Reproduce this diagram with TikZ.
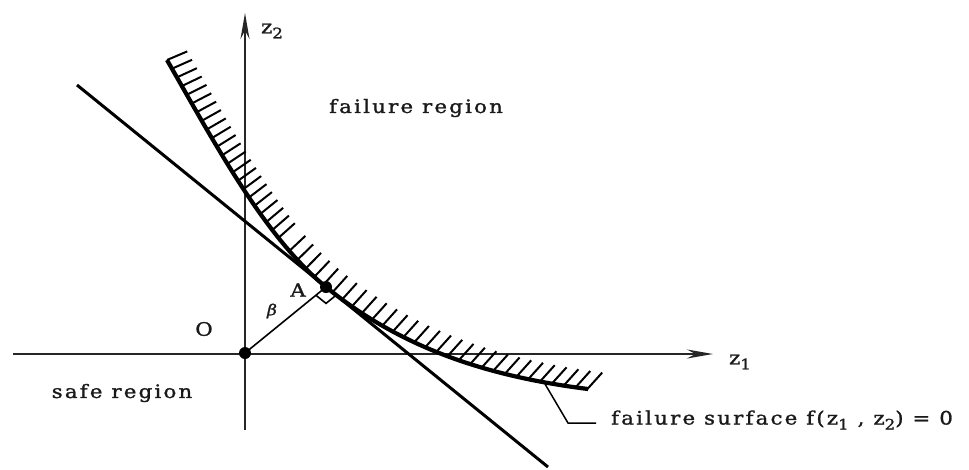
\documentclass[tikz,border=0pt]{standalone}
\usepackage{fontspec}
\usetikzlibrary{arrows.meta,decorations.markings,calc}
\newfontfamily\labfont[FakeStretch=1.15,LetterSpace=12,FakeBold=1.4]{DejaVu Serif}
\newcommand\lsub[1]{\raisebox{-5pt}{\fontsize{14.5}{14.5}\selectfont #1}}
\begin{document}
\begin{tikzpicture}[x=1pt,y=-1pt,
  axisline/.style={line width=1.8pt,draw=black!85,-{Stealth[length=26pt,width=9pt]}},
  tline/.style={line width=3pt},
  curveline/.style={line width=4.2pt},
  thinline/.style={line width=1.6pt},
  leader/.style={line width=1.5pt},
  lab/.style={font=\labfont\fontsize{18.5}{20}\selectfont,inner sep=0pt,text=black!90},
  dot/.style={circle,fill=black,inner sep=0pt,minimum size=12pt},
  hatching/.style={decoration={markings,
     mark=between positions 0pt and 215pt step 10pt with {\hatchmark},
     mark=between positions 227pt and 1 step 12pt with {\hatchmark}},
     decorate}
]
\newcommand\hatchmark{%
  \pgfmathsetmacro\hang{23+25*min(\pgfkeysvalueof{/pgf/decoration/mark info/distance from start}/280,1)}%
  \pgftransformresetnontranslations
  \draw[line width=2pt] (0pt,0pt) -- (\hang:22pt);}
\useasboundingbox (0,0) rectangle (969,469);

% coordinates
\coordinate (O) at (245,353);
\coordinate (xs) at (13,354);
\coordinate (xe) at (713,354);
\coordinate (ys) at (245,430);
\coordinate (ye) at (245,13);
\coordinate (L1) at (77,85);
\coordinate (L2) at (548,467);
\coordinate (A) at (326,287);

% axes
\draw[axisline] (xs) -- (xe);
\draw[axisline] (ys) -- (ye);

% failure surface with hatching
\draw[curveline,postaction={hatching}] (167,60) .. controls (217,147.5) and (266,238.3) .. (A)
   .. controls (396,343.8) and (478,375.25) .. (588,389);

% tangent line
\draw[tline] (L1) -- (L2);

% beta line and right angle mark
\draw[thinline] (O) -- (A);
\coordinate (B1) at ($(A)!13pt!(O)$);
\coordinate (B3) at ($(A)!13pt!(L2)$);
\draw[thinline] (B1) -- ($(B1)+(B3)-(A)$) -- (B3);

% dots
\node[dot] (Odot) at (O) {};
\node[dot] (Adot) at (A) {};

% labels
\node[lab] (z2) at (272,31) {z\lsub{2}};
\node[lab] (z1) at (740,362) {z\lsub{1}};
\node[lab] (fr) at (416,108) {failure region};
\node[lab] (sr) at (122,393) {safe region};
\node[lab] (Olab) at (204,329) {O};
\node[lab] (Alab) at (298,290) {A};
\node[lab,font=\labfont\itshape\fontsize{15}{16}\selectfont] (beta) at (272,311) {β};
\node[lab,anchor=west] (fs) at (611,420) {failure surface f(z\lsub{1} , z\lsub{2}) = 0};

% leader
\coordinate (lead) at (545,384);
\coordinate (lk) at (568,423);
\draw[leader] (lead) -- (lk) -- ([xshift=-15pt]fs.west |- lk);
\end{tikzpicture}
\end{document}
